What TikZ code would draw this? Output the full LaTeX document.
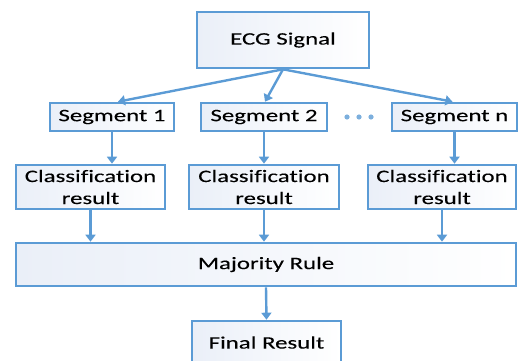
\documentclass[tikz,border=0pt]{standalone}
\usepackage{fontspec}
\setmainfont[FakeStretch=1.42,Ligatures=NoCommon,FakeBold=0.15]{Carlito}
\usetikzlibrary{arrows.meta,calc}
\definecolor{bordercol}{HTML}{5B9BD5}
\definecolor{fillcol}{HTML}{EAEFF8}
\definecolor{dotcol}{HTML}{5B9BD5}
\tikzset{
  box/.style={draw=bordercol, line width=2.6pt, rectangle, inner sep=0pt,
    left color=fillcol, right color=white, text=black,
    font=\fontsize{17.5}{22}\selectfont, align=center},
  conn/.style={draw=bordercol, line width=2.4pt, -{Triangle[length=7pt,width=10pt]}},
}
\begin{document}
\begin{tikzpicture}[x=1pt,y=-1pt]
\clip (0,0) rectangle (519,361);
\node[box, minimum width=172pt, minimum height=56pt] (ecg) at (283,40) {ECG Signal};
\node[box, minimum width=124pt, minimum height=28pt] (s1) at (112,117) {Segment 1};
\node[box, minimum width=126pt, minimum height=28pt] (s2) at (264,117) {Segment 2};
\node[box, minimum width=125pt, minimum height=28pt] (sn) at (454.5,117) {Segment n};
\node[box, minimum width=149pt, minimum height=44pt] (c1) at (90.5,187) {Classification\\result};
\node[box, minimum width=150pt, minimum height=44pt] (c2) at (264,187) {Classification\\result};
\node[box, minimum width=148pt, minimum height=44pt] (c3) at (442,187) {Classification\\result};
\node[box, minimum width=500pt, minimum height=43pt] (maj) at (266,264.5) {Majority Rule};
\node[box, minimum width=149pt, minimum height=45pt] (fin) at (266.5,343.5) {\raisebox{2pt}{Final Result}};
\foreach \x/\n in {347/d1,359/d2,371/d3}
  \fill[dotcol!80] (\x,117) circle (2.6pt) coordinate (\n);
\draw[conn] (ecg.south) -- ($(s1.north)+(6,0)$);
\draw[conn] (ecg.south) -- ($(s2.north)+(1,0)$);
\draw[conn] (ecg.south) -- ($(sn.north)+(-2,0)$);
\draw[conn] (s1.south) -- (s1.south |- c1.north);
\draw[conn] (s2.south) -- (s2.south |- c2.north);
\draw[conn] (sn.south) -- (sn.south |- c3.north);
\draw[conn] (c1.south) -- (c1.south |- maj.north);
\draw[conn] (c2.south) -- (c2.south |- maj.north);
\draw[conn] (c3.south) -- (c3.south |- maj.north);
\draw[conn] (maj.south) -- (fin.north);
\end{tikzpicture}
\end{document}
